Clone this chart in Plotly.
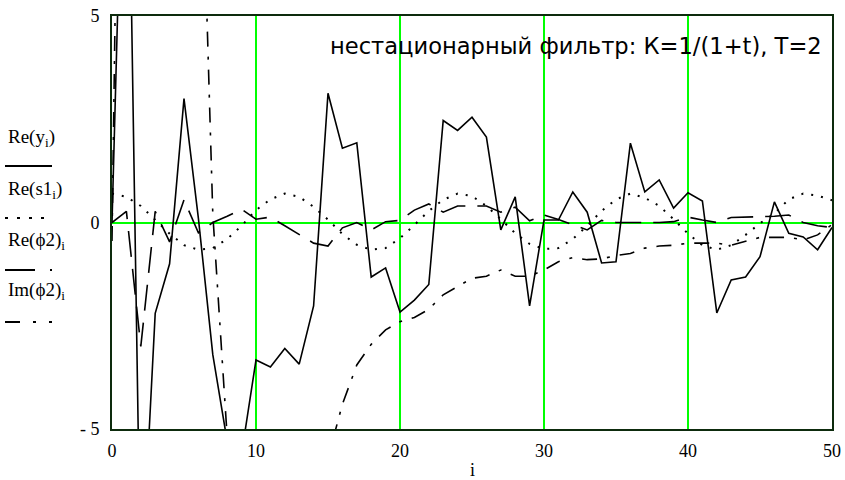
import plotly.graph_objects as go

# ---------------- data ----------------
idx = list(range(0, 51))

re_y = [0.0, 13.0, -9.0, -2.2, -1.0, 3.0, 0.1, -3.2, -5.3, -5.6,
        -3.33, -3.5, -3.05, -3.43, -2.02, 3.13, 1.8, 1.93, -1.32, -1.1,
        -2.17, -1.88, -1.5, 2.47, 2.23, 2.55, 2.07, -0.18, 0.62, -2.02,
        0.06, 0.06, 0.74, 0.25, -0.98, -0.95, 1.92, 0.74, 1.03, 0.35,
        0.72, 0.52, -2.19, -1.39, -1.32, -0.83, 0.5, -0.26, -0.35, -0.66,
        -0.12]

re_s1 = [0.70, 0.62, 0.40, 0.07, -0.27, -0.55, -0.66, -0.62, -0.40, -0.08,
         0.30, 0.56, 0.70, 0.62, 0.38, 0.07, -0.28, -0.54, -0.66, -0.62,
         -0.38, -0.06, 0.28, 0.55, 0.70, 0.64, 0.40, 0.08, -0.26, -0.52,
         -0.64, -0.62, -0.40, -0.08, 0.28, 0.56, 0.70, 0.60, 0.40, 0.08,
         -0.27, -0.55, -0.66, -0.55, -0.30, -0.02, 0.22, 0.56, 0.70, 0.65,
         0.54]

re_phi2 = [0.0, 0.27, -3.0, 0.27, -0.47, 0.55, -0.25, 0.0, 0.15, 0.32,
           0.08, 0.13, -0.08, -0.3, -0.5, -0.57, -0.13, 0.0, -0.18, 0.02,
           0.05, 0.3, 0.45, 0.25, 0.4, 0.4, 0.4, 0.25, 0.37, 0.04,
           0.18, 0.07, -0.05, -0.18, 0.05, 0.0, 0.0, 0.0, 0.0, 0.02,
           0.13, 0.06, 0.0, 0.12, 0.13, 0.13, 0.15, 0.18, 0.0, -0.08,
           -0.12]

im_phi2 = [-0.45, 25.0, 20.0, 16.0, 14.0, 13.0, 12.0, 0.2, -5.2, -9.0,
           -12.0, -14.0, -12.0, -9.0, -7.0, -5.7, -4.4, -3.45, -2.95, -2.6,
           -2.4, -2.3, -2.1, -1.75, -1.55, -1.35, -1.3, -1.15, -1.3, -1.3,
           -1.15, -0.95, -0.85, -0.9, -0.88, -0.8, -0.75, -0.62, -0.57, -0.55,
           -0.5, -0.5, -0.5, -0.55, -0.45, -0.36, -0.36, -0.36, -0.42, -0.3,
           -0.05]

x_ticks = [0, 10, 20, 30, 40, 50]
y_ticks = [-5, 0, 5]
y_ticktext = ["- 5", "0", "5"]

legend_labels = ["Re(y<sub>i</sub>)", "Re(s1<sub>i</sub>)",
                 "Re(ϕ2)<sub>i</sub>", "Im(ϕ2)<sub>i</sub>"]
title_text = "нестационарный фильтр: К=1/(1+t), Т=2"
x_label = "i"

# ---------------- styling / layout ----------------
W, H = 845, 480
L, R, T, B = 112, 13, 16, 51
PW, PH = W - L - R, H - T - B


def px(x):
    return (x - L) / PW


def py(y):
    return (H - B - y) / PH


styles = [
    dict(color="black", width=1.6, dash="solid"),
    dict(color="black", width=2.0, dash="2px,8px"),
    dict(color="black", width=1.6, dash="26px,12px"),
    dict(color="black", width=1.6, dash="15px,10px,3px,10px"),
]
series = [re_y, re_s1, re_phi2, im_phi2]

fig = go.Figure()
for ys, st in zip(series, styles):
    fig.add_trace(go.Scatter(x=idx, y=ys, mode="lines", line=st,
                             showlegend=False, hoverinfo="skip"))

serif = "Liberation Serif, Times New Roman, serif"
frame = "#0d2b0d"

fig.update_layout(
    width=W, height=H,
    margin=dict(l=L, r=R, t=T, b=B, pad=0),
    paper_bgcolor="white", plot_bgcolor="white",
    showlegend=False,
    xaxis=dict(range=[0, 50], tickvals=x_ticks, showgrid=True,
               gridcolor="#00ff00", gridwidth=2, zeroline=False,
               showline=True, mirror=True, linecolor=frame, linewidth=2,
               ticks="", ticklabelstandoff=4, automargin=False,
               tickfont=dict(family=serif, size=18, color="black")),
    yaxis=dict(range=[-5, 5], tickvals=y_ticks, ticktext=y_ticktext,
               showgrid=False, zeroline=True, zerolinecolor="#00ff00",
               zerolinewidth=2, showline=True, mirror=True,
               linecolor=frame, linewidth=2, ticks="", automargin=False,
               ticklabelstandoff=7,
               tickfont=dict(family=serif, size=18, color="black")),
)

annotations = [
    dict(text=title_text, xref="paper", yref="paper", x=px(824), y=py(46),
         xanchor="right", yanchor="middle", showarrow=False,
         font=dict(family="DejaVu Sans, Arial, sans-serif", size=22.6,
                   color="black")),
    dict(text=x_label, xref="paper", yref="paper", x=px(472), y=py(470),
         xanchor="center", yanchor="middle", showarrow=False,
         font=dict(family=serif, size=18, color="black")),
]
label_y = [138, 190, 241, 291]
line_y = [166, 218, 270, 322]
for lab, ly in zip(legend_labels, label_y):
    annotations.append(dict(text=lab, xref="paper", yref="paper",
                            x=px(6), y=py(ly), xanchor="left",
                            yanchor="middle", showarrow=False,
                            font=dict(family=serif, size=19, color="black")))
fig.update_layout(annotations=annotations)

legend_dash = ["solid", "3px,9px", "30px,15px", "15px,13px,3px,13px"]
for ly, d in zip(line_y, legend_dash):
    fig.add_shape(type="line", xref="paper", yref="paper",
                  x0=px(5), x1=px(52), y0=py(ly), y1=py(ly),
                  line=dict(color="black", width=2, dash=d))

fig.write_html("out.html",
               config={"displayModeBar": False, "responsive": False},
               post_script="document.body.style.margin='0px';")
